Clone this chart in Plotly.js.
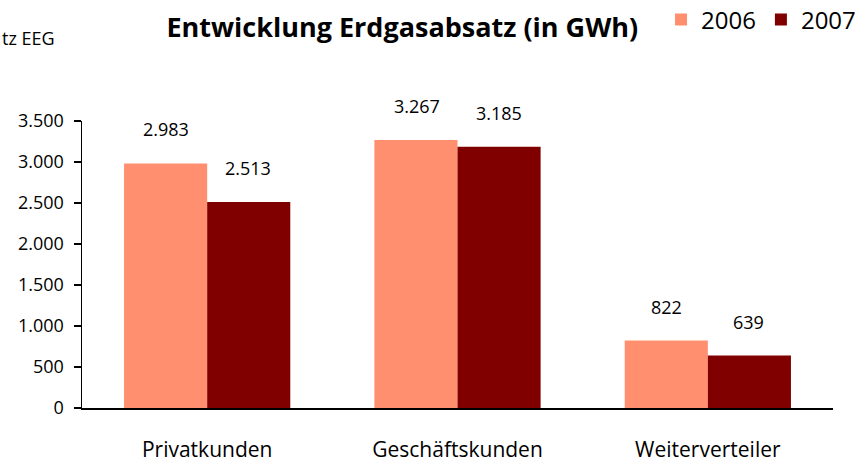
<!DOCTYPE html>
<html>
<head>
<meta charset="utf-8">
<script src="https://cdn.plot.ly/plotly-3.0.1.min.js"></script>
<style>html,body{margin:0;padding:0;background:#fff;}#chart{width:867px;height:465px;}</style>
</head>
<body>
<div id="chart"></div>
<script>
const categories = ["Privatkunden", "Geschäftskunden", "Weiterverteiler"];
const values2006 = [2983, 3267, 822];
const values2007 = [2513, 3185, 639];
const seriesNames = ["2006", "2007"];
const yTickVals = [0, 500, 1000, 1500, 2000, 2500, 3000, 3500];
const yTickText = ["0", "500", "1.000", "1.500", "2.000", "2.500", "3.000", "3.500"];

const colors = ["#FF8F6F", "#800000"];
const fontFam = "'Open Sans', 'Noto Sans', sans-serif";

function fmt(v) {
  return v.toLocaleString("de-DE");
}

const traces = [
  {type: "bar", name: seriesNames[0], x: categories, y: values2006, marker: {color: colors[0]}, hoverinfo: "none"},
  {type: "bar", name: seriesNames[1], x: categories, y: values2007, marker: {color: colors[1]}, hoverinfo: "none"}
];

const annotations = [];
[values2006, values2007].forEach((vals, si) => {
  vals.forEach((v, i) => {
    annotations.push({
      x: categories[i], y: v, xref: "x", yref: "y",
      text: fmt(v), showarrow: false,
      xshift: si === 0 ? -41 : 41, yshift: 34,
      yanchor: "middle",
      font: {family: fontFam, size: 18, color: "#000"}
    });
  });
});
annotations.push({
  x: -0.109, y: 1.289, xref: "paper", yref: "paper",
  text: "tz EEG", showarrow: false, xanchor: "left", yanchor: "middle",
  font: {family: fontFam, size: 18, color: "#000"}
});

const layout = {
  width: 867, height: 465,
  margin: {l: 82, r: 34, t: 121, b: 57, pad: 0, autoexpand: false},
  paper_bgcolor: "#fff", plot_bgcolor: "#fff",
  title: {
    text: "<b>Entwicklung Erdgasabsatz (in GWh)</b>",
    x: 0.464, xref: "container", xanchor: "center",
    y: 0.94, yref: "container", yanchor: "middle",
    font: {family: fontFam, size: 27, color: "#000"}
  },
  barmode: "group",
  bargap: 0.336, bargroupgap: 0,
  showlegend: true,
  legend: {
    orientation: "h", x: 0.771, y: 1.352, xanchor: "left", yanchor: "middle",
    font: {family: fontFam, size: 24, color: "#000"},
    itemwidth: 30, tracegroupgap: 0, traceorder: "normal",
    bgcolor: "rgba(0,0,0,0)"
  },
  xaxis: {
    type: "category",
    showline: true, linecolor: "#000", linewidth: 1.5,
    ticks: "", showgrid: false, zeroline: false,
    tickfont: {family: fontFam, size: 21, color: "#000"},
    ticklabelstandoff: 22
  },
  yaxis: {
    range: [0, 3500],
    tickvals: yTickVals, ticktext: yTickText,
    showline: true, linecolor: "#000", linewidth: 1.5,
    ticks: "outside", ticklen: 7, tickwidth: 1.5, tickcolor: "#000",
    showgrid: false, zeroline: false,
    ticklabelstandoff: 6,
    tickfont: {family: fontFam, size: 18, color: "#000"}
  },
  annotations: annotations
};

Plotly.newPlot("chart", traces, layout, {displayModeBar: false, staticPlot: true});
</script>
</body>
</html>
